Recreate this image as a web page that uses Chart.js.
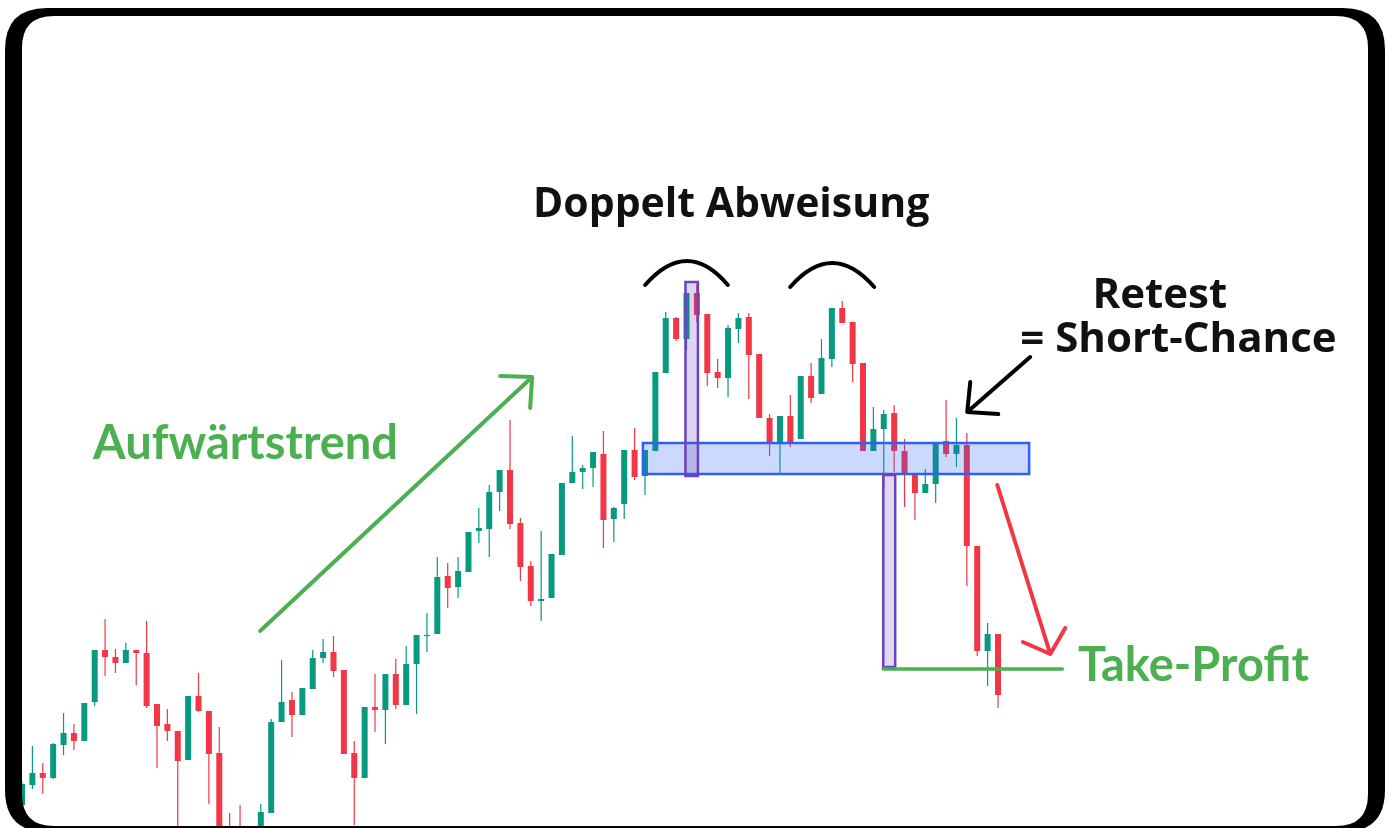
<!DOCTYPE html>
<html>
<head>
<meta charset="utf-8">
<script src="https://cdn.jsdelivr.net/npm/chart.js@4.4.1/dist/chart.umd.min.js"></script>
<style>
  html, body { margin:0; padding:0; background:#fff; }
  #wrap { width:1389px; height:828px; position:relative; }
</style>
</head>
<body>
<div id="wrap"><canvas id="chart"></canvas></div>
<script>
/* ────────────────────────────────────────────────────────────
   DATA  (one candle per index)
────────────────────────────────────────────────────────────── */
const opens  = [ 95,115,127,122,155,167,159,198,250,243,237,250,247,196,176,169,140,204,189,147,
                 68, 70, 40, 60, 87,178,200,185,211,242,248,230,147,122,193,190,226,195,236,264,
                266,324,313,328,369,371,408,430,377,334,299,302,345,417,428,432,446,381,396,450,
                424,449,527,582,561,607,586,528,522,571,583,546,482,457,484,461,524,506,541,592,
                578,537,449,471,487,449,427,407,416,459,446,455,354,249,266];
const closes = [116,127,122,156,167,159,197,250,243,237,250,247,194,174,169,139,204,189,146, 50,
                 45, 50, 55, 88,178,198,185,212,242,248,229,146,122,193,190,226,195,236,265,265,
                323,312,329,368,372,408,430,376,333,299,301,346,417,428,432,448,380,392,450,423,
                450,528,582,561,607,585,527,522,572,582,545,482,457,484,457,524,502,542,592,577,
                536,449,471,486,449,427,407,416,458,446,455,354,249,266,205];
const highs  = [118,154,137,157,187,176,197,250,281,251,257,250,279,196,191,169,204,227,189,173,
                 87, 95, 65, 96,181,240,208,212,250,261,264,230,159,193,226,226,241,254,265,287,
                343,337,343,368,392,415,430,480,382,339,369,346,417,464,435,448,469,393,450,472,
                450,528,588,583,607,616,586,541,575,587,587,546,486,484,505,524,537,561,592,599,
                578,537,493,490,495,461,427,431,458,500,482,467,354,277,266];
const lows   = [ 88,111,106,121,145,150,159,194,224,227,237,215,192,132,159, 60,140,188, 96, 40,
                 35, 40, 30, 55, 87,178,163,185,211,237,223,146, 75,122,168,156,191,195,186,248,
                266,292,302,328,357,343,389,371,319,294,279,302,345,417,411,413,352,358,381,420,
                405,449,527,559,550,578,514,512,503,557,501,482,444,427,453,461,497,506,533,577,
                518,449,449,411,428,393,380,407,397,443,433,314,244,214,192];

/* annotation geometry in (candle index, price) */
const zoneIdx     = [59.8, 97.0];   const zonePrice   = [426, 457];
const peakBoxIdx  = [63.9, 65.1];   const peakBoxPrice= [424, 618];
const dropBoxIdx  = [82.95, 84.1];  const dropBoxPrice= [233, 425];
const tpIdx       = [82.95, 100.2]; const tpPrice     = 231;

const labels = [
  { text:"Doppelt Abweisung", i:68.3,  p:683, align:"center", color:"#111", size:41, weight:700, font:"Open Sans" },
  { text:"Retest",            i:103.1, p:592, align:"left",   color:"#111", size:42, weight:700, font:"Open Sans" },
  { text:"= Short-Chance",    i:96.15, p:548, align:"left",   color:"#111", size:42, weight:700, font:"Open Sans" },
  { text:"Aufwärtstrend",     i:6.84,  p:441, align:"left",   color:"#4caf50", size:47, weight:700, font:"Lato" },
  { text:"Take-Profit",       i:101.7, p:219, align:"left",   color:"#4caf50", size:47, weight:700, font:"Lato" }
];

const GREEN = "#089981", RED = "#F23645";

document.addEventListener("DOMContentLoaded", () => {
  const up      = opens.map((o, k) => closes[k] >= o);
  const colours = up.map(u => u ? GREEN : RED);

  const wickData = highs.map((h, k) => ({ x:k, y:[lows[k], h] }));
  const bodyData = opens.map((o, k) => ({ x:k, y:[o, closes[k]] }));

  /* -------- helpers for the overlay drawings ---------- */
  function rrect(ctx, x, y, w, h, r){
    ctx.moveTo(x + r, y);
    ctx.lineTo(x + w - r, y);
    ctx.quadraticCurveTo(x + w, y, x + w, y + r);
    ctx.lineTo(x + w, y + h - r);
    ctx.quadraticCurveTo(x + w, y + h, x + w - r, y + h);
    ctx.lineTo(x + r, y + h);
    ctx.quadraticCurveTo(x, y + h, x, y + h - r);
    ctx.lineTo(x, y + r);
    ctx.quadraticCurveTo(x, y, x + r, y);
    ctx.closePath();
  }

  const overlay = {
    id:"overlay",
    afterDatasetsDraw(chart){
      const {ctx, scales:{x, y}} = chart;
      const X = v => x.getPixelForValue(v), Y = v => y.getPixelForValue(v);

      function box(iArr, pArr, fill, stroke){
        const x0 = X(iArr[0]), x1 = X(iArr[1]);
        const y0 = Y(pArr[1]), y1 = Y(pArr[0]);
        ctx.fillStyle = fill;
        ctx.fillRect(x0, y0, x1 - x0, y1 - y0);
        ctx.lineWidth = 2.5;
        ctx.strokeStyle = stroke;
        ctx.strokeRect(x0, y0, x1 - x0, y1 - y0);
      }
      function arrow(pts, colour){
        ctx.strokeStyle = colour;
        ctx.lineWidth = 4;
        ctx.lineCap = "round"; ctx.lineJoin = "round";
        ctx.beginPath();
        ctx.moveTo(X(pts[0][0]), Y(pts[0][1]));
        ctx.lineTo(X(pts[1][0]), Y(pts[1][1]));
        ctx.moveTo(X(pts[2][0]), Y(pts[2][1]));
        ctx.lineTo(X(pts[1][0]), Y(pts[1][1]));
        ctx.lineTo(X(pts[3][0]), Y(pts[3][1]));
        ctx.stroke();
      }
      function arc(a, c, b){
        ctx.strokeStyle = "#000";
        ctx.lineWidth = 4;
        ctx.lineCap = "round";
        ctx.beginPath();
        ctx.moveTo(X(a[0]), Y(a[1]));
        ctx.quadraticCurveTo(X(c[0]), Y(c[1]), X(b[0]), Y(b[1]));
        ctx.stroke();
      }

      ctx.save();
      box(zoneIdx, zonePrice, "rgba(41,98,255,0.24)", "#2f5ff5");
      box(peakBoxIdx, peakBoxPrice, "rgba(103,58,183,0.22)", "#6a42c2");
      box(dropBoxIdx, dropBoxPrice, "rgba(103,58,183,0.2)", "#6a42c2");

      /* take profit line */
      ctx.strokeStyle = "#4caf50";
      ctx.lineWidth = 3.5;
      ctx.lineCap = "round";
      ctx.beginPath();
      ctx.moveTo(X(tpIdx[0]), Y(tpPrice));
      ctx.lineTo(X(tpIdx[1]), Y(tpPrice));
      ctx.stroke();

      /* arrows: start, tip, arm, arm */
      arrow([[22.93,269],[49.13,523],[46.05,524],[48.94,492]], "#4caf50");
      arrow([[93.93,415],[99.04,246],[96.4,258],[100.48,272]], "#f23645");
      arrow([[97.1,543],[91.04,488],[91.33,518],[94.03,486]], "#000");

      /* double top arcs */
      arc([60.02,615],[64.07,663],[67.98,615]);
      arc([73.99,613],[78.03,661],[82.08,613]);

      /* texts */
      labels.forEach(l => {
        ctx.font = `${l.weight} ${l.size}px "${l.font}", sans-serif`;
        ctx.fillStyle = l.color;
        ctx.textAlign = l.align;
        ctx.textBaseline = "alphabetic";
        ctx.fillText(l.text, X(l.i), Y(l.p));
      });
      ctx.restore();
    },
    afterDraw(chart){
      const {ctx, width, height} = chart;
      ctx.save();
      /* white outside the rounded frame */
      ctx.beginPath();
      ctx.rect(0, 0, width, height);
      rrect(ctx, 5, 8, 1380, 824, 42);
      ctx.fillStyle = "#fff";
      ctx.fill("evenodd");
      /* black frame */
      ctx.beginPath();
      rrect(ctx, 5, 8, 1380, 824, 42);
      rrect(ctx, 22, 16, 1346, 810, 32);
      ctx.fillStyle = "#000";
      ctx.fill("evenodd");
      ctx.restore();
    }
  };

  new Chart(document.getElementById("chart"), {
    type:"bar",
    data:{
      datasets:[
        { label:"wick", data:wickData, backgroundColor:colours, grouped:false,
          barPercentage:0.12, categoryPercentage:1, maxBarThickness:1.2, order:2 },
        { label:"body", data:bodyData, backgroundColor:colours, grouped:false,
          barPercentage:0.6, categoryPercentage:1, maxBarThickness:6, order:1 }
      ]
    },
    options:{
      responsive:true,
      maintainAspectRatio:false,
      animation:false,
      layout:{ padding:0 },
      scales:{
        x:{ type:"linear", min:-2.12, max:131.66, display:false, offset:false },
        y:{ min:72, max:900, display:false }
      },
      plugins:{ legend:{ display:false }, tooltip:{ enabled:false } }
    },
    plugins:[overlay]
  });
});
</script>
</body>
</html>
